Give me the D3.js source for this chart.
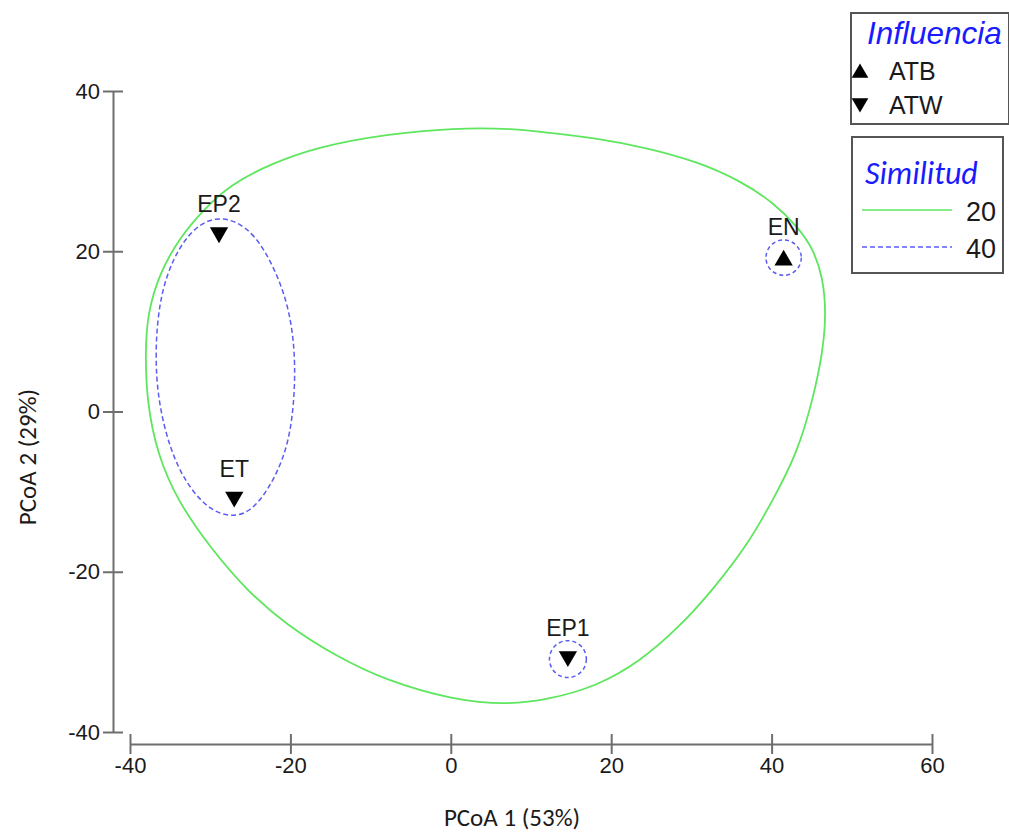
<!DOCTYPE html>
<html>
<head>
<meta charset="utf-8">
<script src="https://cdn.jsdelivr.net/npm/d3@7"></script>
<style>
  html, body { margin: 0; padding: 0; background: #fff; }
  svg { display: block; }
</style>
</head>
<body>
<svg id="chart" width="1009" height="835"></svg>
<script>
// ---------------- data ----------------
const sites = ["EP2", "ET", "EN", "EP1"];
const pcoa1 = [-28.9, -27.0, 41.5, 14.6];
const pcoa2 = [22.0, -11.0, 19.2, -30.9];
const influencia = ["ATW", "ATW", "ATB", "ATW"];

const xTicks = [-40, -20, 0, 20, 40, 60];
const yTicks = [-40, -20, 0, 20, 40];

// similarity 20 % contour (green)
const sim20X = [0.3, 8.0, 12.0, 18.2, 24.5, 30.7, 36.1, 40.2, 43.2, 45.2, 46.4, 46.8, 46.4, 45.2, 43.2, 40.2, 36.9, 32.7, 28.6, 23.6, 18.2, 12.0, 7.0, 0.3, -8.0, -14.2, -20.4, -25.4, -30.0, -34.1, -36.6, -37.9, -38.1, -37.8, -36.3, -33.8, -30.9, -27.5, -22.5, -16.3, -8.0];
const sim20Y = [35.4, 35.3, 34.8, 34.1, 32.9, 31.2, 28.8, 26.1, 23.1, 20.3, 16.7, 12.3, 7.5, 1.7, -5.2, -11.0, -16.8, -22.2, -26.8, -31.2, -34.3, -36.0, -36.6, -36.0, -33.6, -30.6, -26.7, -22.4, -17.0, -11.1, -5.3, 1.2, 7.5, 12.3, 17.3, 21.7, 25.1, 28.3, 30.9, 33.1, 34.6];

// similarity 40 % contour around EP2 + ET (blue dashed)
const sim40X = [-28.8, -24.7, -21.7, -20.0, -19.3, -19.7, -20.9, -22.9, -25.0, -27.2, -30.0, -32.9, -35.0, -36.5, -36.9, -36.3, -34.6, -32.1];
const sim40Y = [24.6, 22.8, 17.4, 12.3, 6.1, -1.3, -6.1, -10.0, -12.5, -13.2, -12.4, -9.2, -4.8, 1.2, 7.5, 14.3, 19.3, 23.0];

// single-member similarity 40 % groups (circle radius in PCoA units)
const singleSites = ["EN", "EP1"];
const singleRadius = [2.2, 2.3];

const legendInfl = ["ATB", "ATW"];
const legendSim = ["20", "40"];

// ---------------- drawing ----------------
const svg = d3.select("#chart");
const x = d3.scaleLinear().domain([-40, 60]).range([130, 932]);
const y = d3.scaleLinear().domain([-40, 40]).range([732, 91]);

const axisColor = "#6e6e6e";
const tickFont = "'Liberation Sans', Arial, sans-serif";
const fmt = d => String(d);

// x axis
const gx = svg.append("g").attr("transform", "translate(0,744)")
  .call(d3.axisBottom(x).tickValues(xTicks).tickSize(10).tickSizeOuter(0).tickPadding(4).tickFormat(fmt));
gx.select(".domain").attr("stroke", axisColor).attr("stroke-width", 2);
gx.selectAll(".tick line").attr("stroke", axisColor).attr("stroke-width", 2).attr("y1", -10).attr("y2", 10);
gx.selectAll(".tick text").attr("font-size", 22).attr("font-family", tickFont).attr("fill", "#1a1a1a").attr("y", 13);

// y axis
const gy = svg.append("g").attr("transform", "translate(113,0)")
  .call(d3.axisLeft(y).tickValues(yTicks).tickSize(10).tickSizeOuter(0).tickPadding(4).tickFormat(fmt));
gy.select(".domain").attr("stroke", axisColor).attr("stroke-width", 2);
gy.selectAll(".tick line").attr("stroke", axisColor).attr("stroke-width", 2).attr("x1", -10).attr("x2", 10);
gy.selectAll(".tick text").attr("font-size", 22).attr("font-family", tickFont).attr("fill", "#1a1a1a").attr("x", -13);

// axis titles
const titleFont = "Calibri, Carlito, 'Open Sans', sans-serif";
svg.append("text").attr("x", 512).attr("y", 826).attr("text-anchor", "middle")
  .attr("font-family", titleFont).attr("font-size", 25).attr("fill", "#1a1a1a").text("PCoA 1 (53%)");
svg.append("text").attr("transform", "translate(36,457) rotate(-90)").attr("text-anchor", "middle")
  .attr("font-family", titleFont).attr("font-size", 25).attr("fill", "#1a1a1a").text("PCoA 2 (29%)");

// contours
const closed = d3.line().x(d => x(d[0])).y(d => y(d[1])).curve(d3.curveBasisClosed);
const green = "#5ee65e";
const blue = "#5c5cf2";
svg.append("path").datum(sim20X.map((v, i) => [v, sim20Y[i]]))
  .attr("d", closed).attr("fill", "none").attr("stroke", green).attr("stroke-width", 1.8);
svg.append("path").datum(sim40X.map((v, i) => [v, sim40Y[i]]))
  .attr("d", closed).attr("fill", "none").attr("stroke", blue).attr("stroke-width", 1.5)
  .attr("stroke-dasharray", "5,3");

// single-site circles
singleSites.forEach((s, k) => {
  const i = sites.indexOf(s);
  svg.append("circle").attr("cx", x(pcoa1[i])).attr("cy", y(pcoa2[i]))
    .attr("r", x(singleRadius[k]) - x(0))
    .attr("fill", "none").attr("stroke", blue).attr("stroke-width", 1.5).attr("stroke-dasharray", "4,3");
});

// points
const tri = d3.symbol().type(d3.symbolTriangle).size(145)();
sites.forEach((s, i) => {
  const up = influencia[i] === "ATB";
  const cx = x(pcoa1[i]), cy = y(pcoa2[i]);
  svg.append("path").attr("d", tri)
    .attr("transform", `translate(${cx},${cy + (up ? 2.6 : -2.6)}) rotate(${up ? 0 : 180})`)
    .attr("fill", "#000");
  svg.append("text").attr("x", cx).attr("y", cy - 23).attr("text-anchor", "middle")
    .attr("font-family", tickFont).attr("font-size", 23).attr("fill", "#1a1a1a").text(s);
});

// legend: Influencia
svg.append("rect").attr("x", 851).attr("y", 13).attr("width", 158).attr("height", 111)
  .attr("fill", "#fff").attr("stroke", "#555").attr("stroke-width", 2);
svg.append("text").attr("x", 867).attr("y", 44).attr("font-family", tickFont).attr("font-style", "italic")
  .attr("font-size", 31.5).attr("fill", "#1a1aff").text("Influencia");
const triL = d3.symbol().type(d3.symbolTriangle).size(120)();
legendInfl.forEach((lab, k) => {
  const cy = 71 + k * 34;
  svg.append("path").attr("d", triL)
    .attr("transform", `translate(860,${cy + (k === 0 ? 2 : -2)}) rotate(${k === 0 ? 0 : 180})`).attr("fill", "#000");
  svg.append("text").attr("x", 889).attr("y", cy + 9).attr("font-family", tickFont)
    .attr("font-size", 25).attr("fill", "#1a1a1a").text(lab);
});

// legend: Similitud
svg.append("rect").attr("x", 852).attr("y", 137).attr("width", 151).attr("height", 136)
  .attr("fill", "#fff").attr("stroke", "#555").attr("stroke-width", 2);
svg.append("text").attr("x", 865).attr("y", 184).attr("font-family", titleFont).attr("font-style", "italic")
  .attr("font-size", 32).attr("fill", "#1a1aff").text("Similitud");
legendSim.forEach((lab, k) => {
  const cy = 210 + k * 37;
  svg.append("line").attr("x1", 862).attr("x2", 952).attr("y1", cy).attr("y2", cy)
    .attr("stroke", k === 0 ? green : blue).attr("stroke-width", 1.6)
    .attr("stroke-dasharray", k === 0 ? null : "5,3");
  svg.append("text").attr("x", 996).attr("y", cy + 11).attr("text-anchor", "end").attr("font-family", tickFont)
    .attr("font-size", 27).attr("fill", "#1a1a1a").text(lab);
});
</script>
</body>
</html>
